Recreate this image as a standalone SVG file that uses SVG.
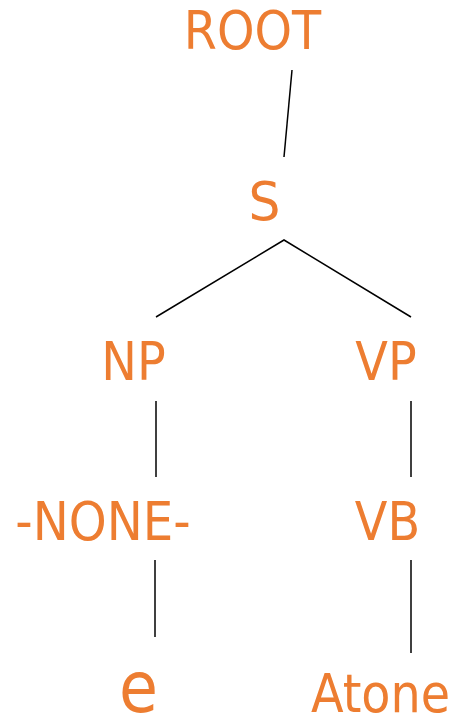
<svg xmlns="http://www.w3.org/2000/svg" width="454" height="721" viewBox="0 0 454 721">
<style>
.lbl{font-family:"DejaVu Sans",Verdana,sans-serif;fill:#ED7D31;text-anchor:middle;font-size:53px}
.edge{stroke:#000;stroke-width:1.5;fill:none}
</style>
<rect width="454" height="721" fill="#fff"/>
<g id="connectors">
<line class="edge" x1="292" y1="70" x2="284" y2="157"/>
<polyline class="edge" points="156,317 284,240 411,317"/>
<line class="edge" x1="156" y1="401" x2="156" y2="477"/>
<line class="edge" x1="411" y1="401" x2="411" y2="477"/>
<line class="edge" x1="155" y1="560" x2="155" y2="637"/>
<line class="edge" x1="411" y1="560" x2="411" y2="653"/>
</g>
<g id="n-root"><text class="lbl" transform="translate(252.5,49) scale(0.9,1)">ROOT</text></g>
<g id="n-s"><text class="lbl" transform="translate(264.5,220) scale(0.95,1)">S</text></g>
<g id="n-np"><text class="lbl" transform="translate(133.5,380) scale(0.9,1)">NP</text></g>
<g id="n-vp"><text class="lbl" transform="translate(386,380) scale(0.9,1)">VP</text></g>
<g id="n-none"><text class="lbl" transform="translate(103,540) scale(0.91,1)">-NONE-</text></g>
<g id="n-vb"><text class="lbl" transform="translate(387.5,540) scale(0.9,1)">VB</text></g>
<g id="n-e"><text class="lbl" transform="translate(138.5,712) scale(0.88,1)" style="font-size:72px">e</text></g>
<g id="n-atone"><text class="lbl" transform="translate(380.5,712) scale(0.9,1)">Atone</text></g>
</svg>
